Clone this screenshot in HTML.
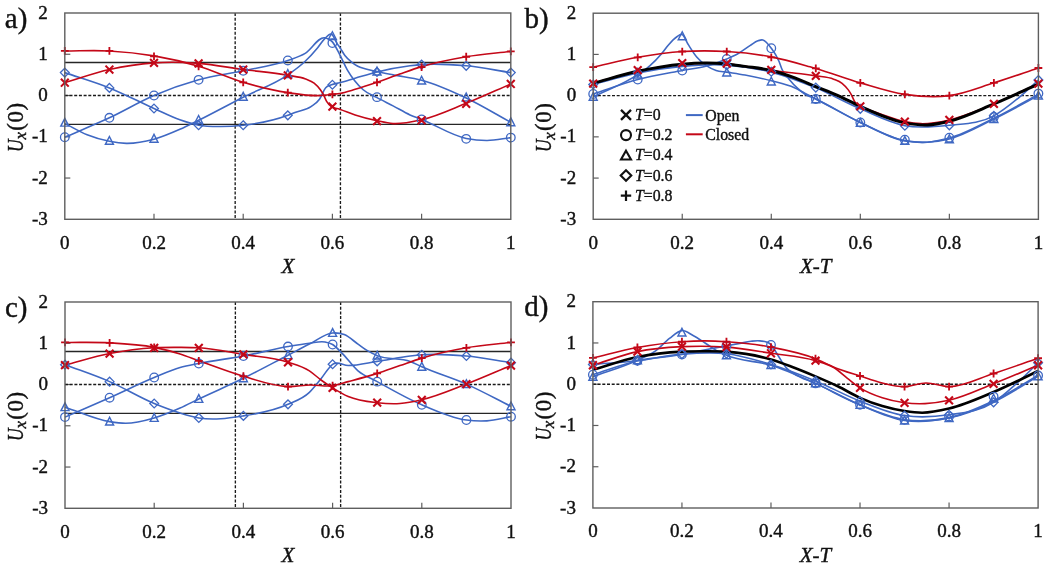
<!DOCTYPE html>
<html><head><meta charset="utf-8"><style>
html,body{margin:0;padding:0;background:#fff;width:1050px;height:568px;overflow:hidden;font-family:"Liberation Serif",serif;}
svg{display:block;will-change:transform;filter:blur(0.35px);}
</style></head><body>
<svg width="1050" height="568" viewBox="0 0 1050 568"><text x="47.80" y="18.60" text-anchor="end" font-family="Liberation Serif, serif" stroke="#111" stroke-width="0.4" font-size="19" fill="#111">2</text>
<text x="47.80" y="59.86" text-anchor="end" font-family="Liberation Serif, serif" stroke="#111" stroke-width="0.4" font-size="19" fill="#111">1</text>
<line x1="64.80" y1="54.26" x2="70.30" y2="54.26" stroke="#5e5e5e" stroke-width="1.2"/>
<text x="47.80" y="101.12" text-anchor="end" font-family="Liberation Serif, serif" stroke="#111" stroke-width="0.4" font-size="19" fill="#111">0</text>
<line x1="64.80" y1="95.52" x2="70.30" y2="95.52" stroke="#5e5e5e" stroke-width="1.2"/>
<text x="47.80" y="142.38" text-anchor="end" font-family="Liberation Serif, serif" stroke="#111" stroke-width="0.4" font-size="19" fill="#111">-1</text>
<line x1="64.80" y1="136.78" x2="70.30" y2="136.78" stroke="#5e5e5e" stroke-width="1.2"/>
<text x="47.80" y="183.64" text-anchor="end" font-family="Liberation Serif, serif" stroke="#111" stroke-width="0.4" font-size="19" fill="#111">-2</text>
<line x1="64.80" y1="178.04" x2="70.30" y2="178.04" stroke="#5e5e5e" stroke-width="1.2"/>
<text x="47.80" y="224.90" text-anchor="end" font-family="Liberation Serif, serif" stroke="#111" stroke-width="0.4" font-size="19" fill="#111">-3</text>
<text x="64.80" y="248.50" text-anchor="middle" font-family="Liberation Serif, serif" stroke="#111" stroke-width="0.4" font-size="19" fill="#111">0</text>
<text x="154.00" y="248.50" text-anchor="middle" font-family="Liberation Serif, serif" stroke="#111" stroke-width="0.4" font-size="19" fill="#111">0.2</text>
<line x1="154.00" y1="219.30" x2="154.00" y2="213.80" stroke="#5e5e5e" stroke-width="1.2"/>
<text x="243.20" y="248.50" text-anchor="middle" font-family="Liberation Serif, serif" stroke="#111" stroke-width="0.4" font-size="19" fill="#111">0.4</text>
<line x1="243.20" y1="219.30" x2="243.20" y2="213.80" stroke="#5e5e5e" stroke-width="1.2"/>
<text x="332.40" y="248.50" text-anchor="middle" font-family="Liberation Serif, serif" stroke="#111" stroke-width="0.4" font-size="19" fill="#111">0.6</text>
<line x1="332.40" y1="219.30" x2="332.40" y2="213.80" stroke="#5e5e5e" stroke-width="1.2"/>
<text x="421.60" y="248.50" text-anchor="middle" font-family="Liberation Serif, serif" stroke="#111" stroke-width="0.4" font-size="19" fill="#111">0.8</text>
<line x1="421.60" y1="219.30" x2="421.60" y2="213.80" stroke="#5e5e5e" stroke-width="1.2"/>
<text x="510.80" y="248.50" text-anchor="middle" font-family="Liberation Serif, serif" stroke="#111" stroke-width="0.4" font-size="19" fill="#111">1</text>
<text x="287.80" y="273.30" text-anchor="middle" font-family="Liberation Serif, serif" stroke="#111" stroke-width="0.4" font-size="21" font-style="italic" fill="#111">X</text>
<g transform="translate(22.50,0) rotate(-90)" font-family="Liberation Serif, serif" stroke="#111" stroke-width="0.4" fill="#111"><text x="-151.90" y="0" font-size="23" font-style="italic" textLength="12.6" lengthAdjust="spacingAndGlyphs">U</text><text x="-139.60" y="3.6" font-size="17" font-style="italic">x</text><text x="-130.80" y="0" font-size="23" textLength="28" lengthAdjust="spacing">(0)</text></g>
<text x="4.80" y="27.50" font-family="Liberation Serif, serif" stroke="#111" stroke-width="0.4" font-size="29" fill="#111">a)</text>
<line x1="64.80" y1="95.52" x2="510.80" y2="95.52" stroke="#1a1a1a" stroke-width="1.35" stroke-dasharray="3,1.7"/>
<line x1="64.80" y1="62.51" x2="510.80" y2="62.51" stroke="#262626" stroke-width="1.30"/>
<line x1="64.80" y1="124.40" x2="510.80" y2="124.40" stroke="#262626" stroke-width="1.30"/>
<line x1="235.17" y1="13.00" x2="235.17" y2="219.30" stroke="#1a1a1a" stroke-width="1.35" stroke-dasharray="3,1.7"/>
<line x1="340.43" y1="13.00" x2="340.43" y2="219.30" stroke="#1a1a1a" stroke-width="1.35" stroke-dasharray="3,1.7"/>
<path d="M64.80,137.19 C79.67,130.73 94.53,124.75 109.40,117.80 C124.27,110.85 139.13,101.85 154.00,95.52 C168.87,89.19 183.73,83.97 198.60,79.84 C213.47,75.72 228.33,74.00 243.20,70.76 C258.07,67.53 272.93,65.73 287.80,60.45 C293.60,58.39 299.40,56.85 305.19,53.43 C311.74,49.58 318.28,36.64 324.82,37.76 C327.35,38.19 329.87,38.99 332.40,41.88 C334.93,44.77 337.45,50.32 339.98,55.09 C342.36,59.57 344.74,65.35 347.12,69.53 C349.65,73.96 352.17,77.43 354.70,80.67 C357.52,84.29 360.35,87.26 363.17,89.74 C367.78,93.80 372.39,95.08 377.00,97.58 C382.35,100.49 387.70,103.03 393.06,105.84 C398.71,108.80 404.35,112.37 410.00,114.91 C413.87,116.65 417.73,117.91 421.60,119.45 C436.47,125.37 451.33,135.41 466.20,138.43 C473.19,139.85 480.17,140.53 487.16,140.49 C495.04,140.45 502.92,138.57 510.80,137.61" stroke="#3f68c3" stroke-width="1.60" fill="none" stroke-linejoin="round"/>
<path d="M64.80,123.37 C72.23,127.15 79.67,131.73 87.10,134.72 C94.53,137.71 101.97,139.85 109.40,141.32 C115.05,142.43 120.70,143.28 126.35,143.38 C135.57,143.55 144.78,141.74 154.00,139.26 C162.62,136.93 171.25,133.16 179.87,129.35 C186.11,126.59 192.36,123.36 198.60,120.28 C213.47,112.92 228.33,104.73 243.20,97.17 C258.07,89.61 272.93,85.35 287.80,74.89 C293.60,70.81 299.40,66.85 305.19,61.27 C309.36,57.27 313.52,52.68 317.68,47.66 C320.06,44.79 322.44,40.70 324.82,38.58 C327.35,36.32 329.87,32.38 332.40,34.87 C333.89,36.33 335.37,40.72 336.86,43.12 C337.90,44.80 338.94,46.09 339.98,47.66 C341.62,50.13 343.25,53.31 344.89,55.50 C347.12,58.48 349.35,60.27 351.58,62.10 C353.66,63.80 355.74,65.15 357.82,66.23 C360.20,67.45 362.58,67.97 364.96,68.70 C368.97,69.93 372.99,70.69 377.00,71.59 C382.35,72.79 387.70,73.82 393.06,74.89 C402.57,76.79 412.09,77.69 421.60,80.25 C436.47,84.27 451.33,90.98 466.20,98.00 C481.07,105.01 495.93,114.22 510.80,122.34" stroke="#3f68c3" stroke-width="1.60" fill="none" stroke-linejoin="round"/>
<path d="M64.80,72.62 C79.67,77.71 94.53,81.90 109.40,87.89 C124.27,93.87 139.13,101.87 154.00,108.52 C162.62,112.37 171.25,116.84 179.87,119.86 C186.11,122.05 192.36,124.10 198.60,125.23 C206.03,126.57 213.47,126.47 220.90,126.47 C228.33,126.47 235.77,126.05 243.20,125.23 C258.07,123.58 272.93,120.97 287.80,115.32 C290.18,114.42 292.56,113.37 294.94,112.44 C300.29,110.34 305.64,110.40 310.99,106.66 C313.82,104.69 316.64,103.29 319.47,99.23 C321.55,96.24 323.63,90.07 325.71,87.68 C327.64,85.46 329.58,85.56 331.51,84.79 C334.18,83.73 336.86,83.45 339.54,82.73 C344.74,81.33 349.94,79.69 355.15,78.19 C362.43,76.10 369.72,73.79 377.00,72.00 C388.00,69.31 399.00,67.22 410.00,65.81 C413.87,65.32 417.73,64.88 421.60,64.58 C436.47,63.40 451.33,64.47 466.20,65.81 C481.07,67.15 495.93,70.35 510.80,72.62" stroke="#3f68c3" stroke-width="1.60" fill="none" stroke-linejoin="round"/>
<path d="M64.80,82.73 C79.67,78.33 94.53,72.83 109.40,69.53 C124.27,66.23 139.13,63.96 154.00,62.92 C168.87,61.89 183.73,62.24 198.60,63.34 C213.47,64.44 228.33,67.53 243.20,69.53 C258.07,71.52 272.93,72.54 287.80,75.30 C293.75,76.41 299.69,76.65 305.64,79.02 C308.46,80.14 311.29,80.84 314.11,83.14 C316.20,84.84 318.28,86.81 320.36,89.74 C321.40,91.21 322.44,92.77 323.48,94.69 C324.52,96.62 325.56,99.51 326.60,101.30 C328.24,104.10 329.87,105.36 331.51,106.66 C334.18,108.79 336.86,108.25 339.54,109.14 C344.74,110.85 349.94,113.22 355.15,114.91 C362.43,117.29 369.72,119.12 377.00,120.69 C382.35,121.84 387.70,123.21 393.06,123.58 C402.57,124.23 412.09,121.99 421.60,119.86 C436.47,116.54 451.33,109.34 466.20,103.36 C481.07,97.38 495.93,90.43 510.80,83.97" stroke="#c40818" stroke-width="1.60" fill="none" stroke-linejoin="round"/>
<path d="M64.80,50.96 C79.67,50.96 94.53,50.13 109.40,50.96 C124.27,51.78 139.13,53.37 154.00,55.91 C168.87,58.45 183.73,61.82 198.60,66.23 C213.47,70.63 228.33,77.92 243.20,82.32 C258.07,86.72 272.93,90.42 287.80,92.63 C298.95,94.29 310.10,96.21 321.25,95.52 C324.97,95.29 328.68,94.71 332.40,94.28 C334.78,94.01 337.16,93.84 339.54,93.46 C344.74,92.61 349.94,90.83 355.15,89.33 C362.43,87.23 369.72,84.80 377.00,82.32 C384.58,79.73 392.16,76.73 399.75,74.06 C407.03,71.51 414.32,68.83 421.60,66.64 C436.47,62.16 451.33,59.28 466.20,56.74 C481.07,54.19 495.93,53.16 510.80,51.37" stroke="#c40818" stroke-width="1.60" fill="none" stroke-linejoin="round"/>
<circle cx="64.80" cy="137.19" r="4.30" stroke="#3f68c3" stroke-width="1.30" fill="none"/>
<circle cx="109.40" cy="117.80" r="4.30" stroke="#3f68c3" stroke-width="1.30" fill="none"/>
<circle cx="154.00" cy="95.52" r="4.30" stroke="#3f68c3" stroke-width="1.30" fill="none"/>
<circle cx="198.60" cy="79.84" r="4.30" stroke="#3f68c3" stroke-width="1.30" fill="none"/>
<circle cx="243.20" cy="70.76" r="4.30" stroke="#3f68c3" stroke-width="1.30" fill="none"/>
<circle cx="287.80" cy="60.45" r="4.30" stroke="#3f68c3" stroke-width="1.30" fill="none"/>
<circle cx="332.40" cy="43.12" r="4.30" stroke="#3f68c3" stroke-width="1.30" fill="none"/>
<circle cx="377.00" cy="97.17" r="4.30" stroke="#3f68c3" stroke-width="1.30" fill="none"/>
<circle cx="421.60" cy="119.45" r="4.30" stroke="#3f68c3" stroke-width="1.30" fill="none"/>
<circle cx="466.20" cy="138.84" r="4.30" stroke="#3f68c3" stroke-width="1.30" fill="none"/>
<circle cx="510.80" cy="137.61" r="4.30" stroke="#3f68c3" stroke-width="1.30" fill="none"/>
<path d="M64.80,118.35 L68.80,126.15 L60.80,126.15 Z" stroke="#3f68c3" stroke-width="1.43" fill="none"/>
<path d="M109.40,136.51 L113.40,144.31 L105.40,144.31 Z" stroke="#3f68c3" stroke-width="1.43" fill="none"/>
<path d="M154.00,134.44 L158.00,142.24 L150.00,142.24 Z" stroke="#3f68c3" stroke-width="1.43" fill="none"/>
<path d="M198.60,115.46 L202.60,123.26 L194.60,123.26 Z" stroke="#3f68c3" stroke-width="1.43" fill="none"/>
<path d="M243.20,92.36 L247.20,100.16 L239.20,100.16 Z" stroke="#3f68c3" stroke-width="1.43" fill="none"/>
<path d="M287.80,69.66 L291.80,77.46 L283.80,77.46 Z" stroke="#3f68c3" stroke-width="1.43" fill="none"/>
<path d="M332.40,31.71 L336.40,39.51 L328.40,39.51 Z" stroke="#3f68c3" stroke-width="1.43" fill="none"/>
<path d="M377.00,67.19 L381.00,74.99 L373.00,74.99 Z" stroke="#3f68c3" stroke-width="1.43" fill="none"/>
<path d="M421.60,76.27 L425.60,84.07 L417.60,84.07 Z" stroke="#3f68c3" stroke-width="1.43" fill="none"/>
<path d="M466.20,93.18 L470.20,100.98 L462.20,100.98 Z" stroke="#3f68c3" stroke-width="1.43" fill="none"/>
<path d="M510.80,117.94 L514.80,125.74 L506.80,125.74 Z" stroke="#3f68c3" stroke-width="1.43" fill="none"/>
<path d="M64.80,68.22 L69.20,72.62 L64.80,77.02 L60.40,72.62 Z" stroke="#3f68c3" stroke-width="1.30" fill="none"/>
<path d="M109.40,83.49 L113.80,87.89 L109.40,92.29 L105.00,87.89 Z" stroke="#3f68c3" stroke-width="1.30" fill="none"/>
<path d="M154.00,104.12 L158.40,108.52 L154.00,112.92 L149.60,108.52 Z" stroke="#3f68c3" stroke-width="1.30" fill="none"/>
<path d="M198.60,120.83 L203.00,125.23 L198.60,129.63 L194.20,125.23 Z" stroke="#3f68c3" stroke-width="1.30" fill="none"/>
<path d="M243.20,120.83 L247.60,125.23 L243.20,129.63 L238.80,125.23 Z" stroke="#3f68c3" stroke-width="1.30" fill="none"/>
<path d="M287.80,110.92 L292.20,115.32 L287.80,119.72 L283.40,115.32 Z" stroke="#3f68c3" stroke-width="1.30" fill="none"/>
<path d="M332.40,80.39 L336.80,84.79 L332.40,89.19 L328.00,84.79 Z" stroke="#3f68c3" stroke-width="1.30" fill="none"/>
<path d="M377.00,67.60 L381.40,72.00 L377.00,76.40 L372.60,72.00 Z" stroke="#3f68c3" stroke-width="1.30" fill="none"/>
<path d="M421.60,60.18 L426.00,64.58 L421.60,68.98 L417.20,64.58 Z" stroke="#3f68c3" stroke-width="1.30" fill="none"/>
<path d="M466.20,61.41 L470.60,65.81 L466.20,70.21 L461.80,65.81 Z" stroke="#3f68c3" stroke-width="1.30" fill="none"/>
<path d="M510.80,68.22 L515.20,72.62 L510.80,77.02 L506.40,72.62 Z" stroke="#3f68c3" stroke-width="1.30" fill="none"/>
<path d="M60.90,78.83 L68.70,86.63 M60.90,86.63 L68.70,78.83" stroke="#c40818" stroke-width="2.08" fill="none"/>
<path d="M105.50,65.63 L113.30,73.43 M105.50,73.43 L113.30,65.63" stroke="#c40818" stroke-width="2.08" fill="none"/>
<path d="M150.10,59.02 L157.90,66.82 M150.10,66.82 L157.90,59.02" stroke="#c40818" stroke-width="2.08" fill="none"/>
<path d="M194.70,59.44 L202.50,67.24 M194.70,67.24 L202.50,59.44" stroke="#c40818" stroke-width="2.08" fill="none"/>
<path d="M239.30,65.63 L247.10,73.43 M239.30,73.43 L247.10,65.63" stroke="#c40818" stroke-width="2.08" fill="none"/>
<path d="M283.90,71.40 L291.70,79.20 M283.90,79.20 L291.70,71.40" stroke="#c40818" stroke-width="2.08" fill="none"/>
<path d="M328.50,102.76 L336.30,110.56 M328.50,110.56 L336.30,102.76" stroke="#c40818" stroke-width="2.08" fill="none"/>
<path d="M373.10,117.20 L380.90,125.00 M373.10,125.00 L380.90,117.20" stroke="#c40818" stroke-width="2.08" fill="none"/>
<path d="M417.70,116.38 L425.50,124.18 M417.70,124.18 L425.50,116.38" stroke="#c40818" stroke-width="2.08" fill="none"/>
<path d="M462.30,99.87 L470.10,107.67 M462.30,107.67 L470.10,99.87" stroke="#c40818" stroke-width="2.08" fill="none"/>
<path d="M506.90,80.07 L514.70,87.87 M506.90,87.87 L514.70,80.07" stroke="#c40818" stroke-width="2.08" fill="none"/>
<path d="M60.90,50.96 L68.70,50.96 M64.80,47.06 L64.80,54.86" stroke="#c40818" stroke-width="1.82" fill="none"/>
<path d="M105.50,50.96 L113.30,50.96 M109.40,47.06 L109.40,54.86" stroke="#c40818" stroke-width="1.82" fill="none"/>
<path d="M150.10,56.32 L157.90,56.32 M154.00,52.42 L154.00,60.22" stroke="#c40818" stroke-width="1.82" fill="none"/>
<path d="M194.70,66.23 L202.50,66.23 M198.60,62.33 L198.60,70.13" stroke="#c40818" stroke-width="1.82" fill="none"/>
<path d="M239.30,82.32 L247.10,82.32 M243.20,78.42 L243.20,86.22" stroke="#c40818" stroke-width="1.82" fill="none"/>
<path d="M283.90,92.63 L291.70,92.63 M287.80,88.73 L287.80,96.53" stroke="#c40818" stroke-width="1.82" fill="none"/>
<path d="M328.50,94.28 L336.30,94.28 M332.40,90.38 L332.40,98.18" stroke="#c40818" stroke-width="1.82" fill="none"/>
<path d="M373.10,82.32 L380.90,82.32 M377.00,78.42 L377.00,86.22" stroke="#c40818" stroke-width="1.82" fill="none"/>
<path d="M417.70,67.05 L425.50,67.05 M421.60,63.15 L421.60,70.95" stroke="#c40818" stroke-width="1.82" fill="none"/>
<path d="M462.30,56.74 L470.10,56.74 M466.20,52.84 L466.20,60.64" stroke="#c40818" stroke-width="1.82" fill="none"/>
<path d="M506.90,51.37 L514.70,51.37 M510.80,47.47 L510.80,55.27" stroke="#c40818" stroke-width="1.82" fill="none"/>
<rect x="64.80" y="13.00" width="446.00" height="206.30" fill="none" stroke="#5e5e5e" stroke-width="1.4"/>
<text x="576.20" y="18.80" text-anchor="end" font-family="Liberation Serif, serif" stroke="#111" stroke-width="0.4" font-size="19" fill="#111">2</text>
<text x="576.20" y="60.02" text-anchor="end" font-family="Liberation Serif, serif" stroke="#111" stroke-width="0.4" font-size="19" fill="#111">1</text>
<line x1="593.20" y1="54.42" x2="598.70" y2="54.42" stroke="#5e5e5e" stroke-width="1.2"/>
<text x="576.20" y="101.24" text-anchor="end" font-family="Liberation Serif, serif" stroke="#111" stroke-width="0.4" font-size="19" fill="#111">0</text>
<line x1="593.20" y1="95.64" x2="598.70" y2="95.64" stroke="#5e5e5e" stroke-width="1.2"/>
<text x="576.20" y="142.46" text-anchor="end" font-family="Liberation Serif, serif" stroke="#111" stroke-width="0.4" font-size="19" fill="#111">-1</text>
<line x1="593.20" y1="136.86" x2="598.70" y2="136.86" stroke="#5e5e5e" stroke-width="1.2"/>
<text x="576.20" y="183.68" text-anchor="end" font-family="Liberation Serif, serif" stroke="#111" stroke-width="0.4" font-size="19" fill="#111">-2</text>
<line x1="593.20" y1="178.08" x2="598.70" y2="178.08" stroke="#5e5e5e" stroke-width="1.2"/>
<text x="576.20" y="224.90" text-anchor="end" font-family="Liberation Serif, serif" stroke="#111" stroke-width="0.4" font-size="19" fill="#111">-3</text>
<text x="593.20" y="248.50" text-anchor="middle" font-family="Liberation Serif, serif" stroke="#111" stroke-width="0.4" font-size="19" fill="#111">0</text>
<text x="682.24" y="248.50" text-anchor="middle" font-family="Liberation Serif, serif" stroke="#111" stroke-width="0.4" font-size="19" fill="#111">0.2</text>
<line x1="682.24" y1="219.30" x2="682.24" y2="213.80" stroke="#5e5e5e" stroke-width="1.2"/>
<text x="771.28" y="248.50" text-anchor="middle" font-family="Liberation Serif, serif" stroke="#111" stroke-width="0.4" font-size="19" fill="#111">0.4</text>
<line x1="771.28" y1="219.30" x2="771.28" y2="213.80" stroke="#5e5e5e" stroke-width="1.2"/>
<text x="860.32" y="248.50" text-anchor="middle" font-family="Liberation Serif, serif" stroke="#111" stroke-width="0.4" font-size="19" fill="#111">0.6</text>
<line x1="860.32" y1="219.30" x2="860.32" y2="213.80" stroke="#5e5e5e" stroke-width="1.2"/>
<text x="949.36" y="248.50" text-anchor="middle" font-family="Liberation Serif, serif" stroke="#111" stroke-width="0.4" font-size="19" fill="#111">0.8</text>
<line x1="949.36" y1="219.30" x2="949.36" y2="213.80" stroke="#5e5e5e" stroke-width="1.2"/>
<text x="1038.40" y="248.50" text-anchor="middle" font-family="Liberation Serif, serif" stroke="#111" stroke-width="0.4" font-size="19" fill="#111">1</text>
<text x="815.80" y="273.30" text-anchor="middle" font-family="Liberation Serif, serif" stroke="#111" stroke-width="0.4" font-size="21" font-style="italic" fill="#111">X-T</text>
<g transform="translate(550.90,0) rotate(-90)" font-family="Liberation Serif, serif" stroke="#111" stroke-width="0.4" fill="#111"><text x="-152.10" y="0" font-size="23" font-style="italic" textLength="12.6" lengthAdjust="spacingAndGlyphs">U</text><text x="-139.80" y="3.6" font-size="17" font-style="italic">x</text><text x="-131.00" y="0" font-size="23" textLength="28" lengthAdjust="spacing">(0)</text></g>
<text x="524.50" y="27.70" font-family="Liberation Serif, serif" stroke="#111" stroke-width="0.4" font-size="29" fill="#111">b)</text>
<line x1="593.20" y1="95.64" x2="1038.40" y2="95.64" stroke="#1a1a1a" stroke-width="1.35" stroke-dasharray="3,1.7"/>
<path d="M593.20,93.99 C608.04,89.18 622.88,83.48 637.72,79.56 C652.56,75.65 667.40,73.34 682.24,70.50 C690.40,68.93 698.56,68.21 706.73,65.96 C713.40,64.12 720.08,61.78 726.76,58.95 C730.32,57.45 733.88,55.99 737.44,54.01 C741.75,51.61 746.05,48.04 750.36,45.35 C752.88,43.77 755.40,41.67 757.92,40.82 C759.56,40.27 761.19,39.58 762.82,39.99 C765.64,40.70 768.46,44.43 771.28,48.24 C773.80,51.65 776.33,55.05 778.85,61.02 C779.89,63.47 780.93,66.91 781.96,69.26 C784.34,74.63 786.71,76.20 789.09,79.15 C792.06,82.85 795.02,85.92 797.99,88.63 C800.22,90.67 802.44,92.50 804.67,93.99 C808.38,96.47 812.09,97.23 815.80,98.94 C830.64,105.78 845.48,115.49 860.32,122.43 C875.16,129.37 890.00,137.82 904.84,140.57 C912.26,141.94 919.68,142.63 927.10,142.22 C934.52,141.81 941.94,140.11 949.36,138.10 C964.20,134.07 979.04,125.59 993.88,118.31 C1008.72,111.03 1023.56,102.37 1038.40,94.40" stroke="#3f68c3" stroke-width="1.60" fill="none" stroke-linejoin="round"/>
<path d="M593.20,96.88 C608.04,89.46 622.88,84.61 637.72,74.62 C641.73,71.92 645.73,69.47 649.74,65.96 C653.75,62.46 657.75,58.41 661.76,53.60 C663.99,50.92 666.21,47.51 668.44,44.94 C671.26,41.68 674.08,38.43 676.90,36.70 C678.68,35.60 680.46,33.65 682.24,34.63 C684.32,35.79 686.40,41.67 688.47,44.94 C691.29,49.37 694.11,53.94 696.93,57.31 C700.20,61.20 703.46,63.74 706.73,65.96 C709.84,68.08 712.96,69.47 716.08,70.50 C719.64,71.67 723.20,71.59 726.76,72.14 C732.84,73.09 738.93,73.91 745.01,75.03 C753.77,76.64 762.52,78.49 771.28,80.80 C779.00,82.84 786.71,84.29 794.43,87.81 C797.84,89.36 801.26,91.39 804.67,93.17 C808.38,95.10 812.09,97.01 815.80,98.94 C830.64,106.66 845.48,115.43 860.32,122.43 C875.16,129.44 890.00,138.37 904.84,140.98 C912.26,142.29 919.68,142.56 927.10,142.22 C934.52,141.88 941.94,140.75 949.36,138.92 C964.20,135.26 979.04,126.35 993.88,119.14 C1008.72,111.92 1023.56,103.47 1038.40,95.64" stroke="#3f68c3" stroke-width="1.60" fill="none" stroke-linejoin="round"/>
<path d="M593.20,84.51 C608.04,80.66 622.88,75.99 637.72,72.97 C652.56,69.95 667.40,67.68 682.24,66.37 C697.08,65.07 711.92,64.18 726.76,65.14 C741.60,66.10 756.44,68.37 771.28,72.14 C786.12,75.92 800.96,81.69 815.80,87.81 C830.64,93.92 845.48,102.51 860.32,108.83 C875.16,115.15 890.00,122.98 904.84,125.73 C919.68,128.48 934.52,126.97 949.36,125.32 C964.20,123.67 979.04,123.89 993.88,115.84 C1002.34,111.25 1010.80,104.31 1019.26,97.29 C1025.64,91.99 1032.02,85.75 1038.40,79.98" stroke="#3f68c3" stroke-width="1.60" fill="none" stroke-linejoin="round"/>
<path d="M593.20,67.20 C608.04,63.90 622.88,59.92 637.72,57.31 C652.56,54.69 667.40,52.45 682.24,51.53 C689.66,51.08 697.08,50.92 704.50,50.92 C711.92,50.92 719.34,51.10 726.76,51.53 C741.60,52.40 756.44,54.04 771.28,56.89 C784.19,59.38 797.10,63.16 810.01,66.79 C811.94,67.33 813.87,67.88 815.80,68.43 C830.64,72.73 845.48,78.53 860.32,82.86 C875.16,87.19 890.00,92.27 904.84,94.40 C919.68,96.53 934.52,97.56 949.36,95.64 C964.20,93.72 979.04,87.46 993.88,82.86 C1008.72,78.26 1023.56,72.97 1038.40,68.02" stroke="#c40818" stroke-width="1.60" fill="none" stroke-linejoin="round"/>
<path d="M593.20,83.27 C608.04,79.29 622.88,74.48 637.72,71.32 C652.56,68.16 667.40,65.64 682.24,64.31 C689.66,63.65 697.08,63.14 704.50,63.08 C711.92,63.01 719.34,63.22 726.76,63.90 C732.84,64.46 738.93,65.52 745.01,66.37 C753.77,67.61 762.52,69.10 771.28,70.29 C777.22,71.10 783.15,71.87 789.09,72.56 C794.28,73.16 799.48,73.53 804.67,74.21 C808.38,74.69 812.09,75.25 815.80,75.85 C821.74,76.82 827.67,76.84 833.61,79.15 C836.43,80.25 839.25,80.97 842.07,83.27 C844.14,84.97 846.22,86.94 848.30,89.87 C849.34,91.33 850.38,92.89 851.42,94.82 C852.45,96.74 853.49,99.66 854.53,101.41 C856.16,104.16 857.80,105.11 859.43,106.36 C862.10,108.40 864.77,108.27 867.44,109.24 C872.64,111.13 877.83,113.24 883.03,115.01 C890.30,117.50 897.57,120.14 904.84,121.61 C910.18,122.69 915.52,123.48 920.87,123.67 C930.36,124.01 939.86,122.05 949.36,119.96 C964.20,116.69 979.04,109.93 993.88,103.88 C1008.72,97.84 1023.56,90.42 1038.40,83.69" stroke="#c40818" stroke-width="1.60" fill="none" stroke-linejoin="round"/>
<path d="M593.20,83.27 C608.04,79.29 622.88,74.48 637.72,71.32 C652.56,68.16 667.40,65.64 682.24,64.31 C689.66,63.65 697.08,63.14 704.50,63.08 C711.92,63.01 719.34,63.22 726.76,63.90 C732.84,64.46 738.93,65.50 745.01,66.37 C753.77,67.64 762.52,68.40 771.28,70.50 C779.15,72.38 787.01,75.03 794.88,77.92 C801.85,80.48 808.83,83.73 815.80,86.57 C822.63,89.36 829.45,91.82 836.28,94.82 C844.29,98.33 852.31,102.82 860.32,106.36 C875.16,112.91 890.00,120.10 904.84,122.85 C912.26,124.22 919.68,125.18 927.10,124.91 C934.52,124.63 941.94,122.98 949.36,121.20 C964.20,117.62 979.04,110.07 993.88,103.88 C1008.72,97.70 1023.56,90.69 1038.40,84.10" stroke="#000000" stroke-width="3.00" fill="none" stroke-linejoin="round"/>
<circle cx="593.20" cy="93.99" r="4.30" stroke="#3f68c3" stroke-width="1.30" fill="none"/>
<circle cx="637.72" cy="79.56" r="4.30" stroke="#3f68c3" stroke-width="1.30" fill="none"/>
<circle cx="682.24" cy="70.50" r="4.30" stroke="#3f68c3" stroke-width="1.30" fill="none"/>
<circle cx="726.76" cy="58.95" r="4.30" stroke="#3f68c3" stroke-width="1.30" fill="none"/>
<circle cx="771.28" cy="48.24" r="4.30" stroke="#3f68c3" stroke-width="1.30" fill="none"/>
<circle cx="815.80" cy="98.94" r="4.30" stroke="#3f68c3" stroke-width="1.30" fill="none"/>
<circle cx="860.32" cy="122.43" r="4.30" stroke="#3f68c3" stroke-width="1.30" fill="none"/>
<circle cx="904.84" cy="139.75" r="4.30" stroke="#3f68c3" stroke-width="1.30" fill="none"/>
<circle cx="949.36" cy="137.68" r="4.30" stroke="#3f68c3" stroke-width="1.30" fill="none"/>
<circle cx="993.88" cy="117.07" r="4.30" stroke="#3f68c3" stroke-width="1.30" fill="none"/>
<circle cx="1038.40" cy="93.58" r="4.30" stroke="#3f68c3" stroke-width="1.30" fill="none"/>
<path d="M593.20,92.48 L597.20,100.28 L589.20,100.28 Z" stroke="#3f68c3" stroke-width="1.43" fill="none"/>
<path d="M637.72,70.22 L641.72,78.02 L633.72,78.02 Z" stroke="#3f68c3" stroke-width="1.43" fill="none"/>
<path d="M682.24,31.88 L686.24,39.68 L678.24,39.68 Z" stroke="#3f68c3" stroke-width="1.43" fill="none"/>
<path d="M726.76,68.16 L730.76,75.96 L722.76,75.96 Z" stroke="#3f68c3" stroke-width="1.43" fill="none"/>
<path d="M771.28,77.23 L775.28,85.03 L767.28,85.03 Z" stroke="#3f68c3" stroke-width="1.43" fill="none"/>
<path d="M815.80,94.95 L819.80,102.75 L811.80,102.75 Z" stroke="#3f68c3" stroke-width="1.43" fill="none"/>
<path d="M860.32,118.45 L864.32,126.25 L856.32,126.25 Z" stroke="#3f68c3" stroke-width="1.43" fill="none"/>
<path d="M904.84,136.58 L908.84,144.38 L900.84,144.38 Z" stroke="#3f68c3" stroke-width="1.43" fill="none"/>
<path d="M949.36,134.93 L953.36,142.73 L945.36,142.73 Z" stroke="#3f68c3" stroke-width="1.43" fill="none"/>
<path d="M993.88,114.74 L997.88,122.54 L989.88,122.54 Z" stroke="#3f68c3" stroke-width="1.43" fill="none"/>
<path d="M1038.40,91.24 L1042.40,99.04 L1034.40,99.04 Z" stroke="#3f68c3" stroke-width="1.43" fill="none"/>
<path d="M593.20,80.11 L597.60,84.51 L593.20,88.91 L588.80,84.51 Z" stroke="#3f68c3" stroke-width="1.30" fill="none"/>
<path d="M637.72,68.16 L642.12,72.56 L637.72,76.96 L633.32,72.56 Z" stroke="#3f68c3" stroke-width="1.30" fill="none"/>
<path d="M682.24,61.97 L686.64,66.37 L682.24,70.77 L677.84,66.37 Z" stroke="#3f68c3" stroke-width="1.30" fill="none"/>
<path d="M726.76,60.74 L731.16,65.14 L726.76,69.54 L722.36,65.14 Z" stroke="#3f68c3" stroke-width="1.30" fill="none"/>
<path d="M771.28,67.33 L775.68,71.73 L771.28,76.13 L766.88,71.73 Z" stroke="#3f68c3" stroke-width="1.30" fill="none"/>
<path d="M815.80,83.20 L820.20,87.60 L815.80,92.00 L811.40,87.60 Z" stroke="#3f68c3" stroke-width="1.30" fill="none"/>
<path d="M860.32,104.43 L864.72,108.83 L860.32,113.23 L855.92,108.83 Z" stroke="#3f68c3" stroke-width="1.30" fill="none"/>
<path d="M904.84,121.33 L909.24,125.73 L904.84,130.13 L900.44,125.73 Z" stroke="#3f68c3" stroke-width="1.30" fill="none"/>
<path d="M949.36,120.92 L953.76,125.32 L949.36,129.72 L944.96,125.32 Z" stroke="#3f68c3" stroke-width="1.30" fill="none"/>
<path d="M993.88,111.44 L998.28,115.84 L993.88,120.24 L989.48,115.84 Z" stroke="#3f68c3" stroke-width="1.30" fill="none"/>
<path d="M1038.40,75.58 L1042.80,79.98 L1038.40,84.38 L1034.00,79.98 Z" stroke="#3f68c3" stroke-width="1.30" fill="none"/>
<path d="M589.30,67.20 L597.10,67.20 M593.20,63.30 L593.20,71.10" stroke="#c40818" stroke-width="1.82" fill="none"/>
<path d="M633.82,57.31 L641.62,57.31 M637.72,53.41 L637.72,61.21" stroke="#c40818" stroke-width="1.82" fill="none"/>
<path d="M678.34,51.53 L686.14,51.53 M682.24,47.63 L682.24,55.43" stroke="#c40818" stroke-width="1.82" fill="none"/>
<path d="M722.86,51.53 L730.66,51.53 M726.76,47.63 L726.76,55.43" stroke="#c40818" stroke-width="1.82" fill="none"/>
<path d="M767.38,57.31 L775.18,57.31 M771.28,53.41 L771.28,61.21" stroke="#c40818" stroke-width="1.82" fill="none"/>
<path d="M811.90,68.43 L819.70,68.43 M815.80,64.53 L815.80,72.33" stroke="#c40818" stroke-width="1.82" fill="none"/>
<path d="M856.42,82.86 L864.22,82.86 M860.32,78.96 L860.32,86.76" stroke="#c40818" stroke-width="1.82" fill="none"/>
<path d="M900.94,94.40 L908.74,94.40 M904.84,90.50 L904.84,98.30" stroke="#c40818" stroke-width="1.82" fill="none"/>
<path d="M945.46,95.64 L953.26,95.64 M949.36,91.74 L949.36,99.54" stroke="#c40818" stroke-width="1.82" fill="none"/>
<path d="M989.98,82.86 L997.78,82.86 M993.88,78.96 L993.88,86.76" stroke="#c40818" stroke-width="1.82" fill="none"/>
<path d="M1034.50,68.02 L1042.30,68.02 M1038.40,64.12 L1038.40,71.92" stroke="#c40818" stroke-width="1.82" fill="none"/>
<path d="M589.30,79.79 L597.10,87.59 M589.30,87.59 L597.10,79.79" stroke="#c40818" stroke-width="2.08" fill="none"/>
<path d="M633.82,66.18 L641.62,73.98 M633.82,73.98 L641.62,66.18" stroke="#c40818" stroke-width="2.08" fill="none"/>
<path d="M678.34,59.18 L686.14,66.98 M678.34,66.98 L686.14,59.18" stroke="#c40818" stroke-width="2.08" fill="none"/>
<path d="M722.86,59.59 L730.66,67.39 M722.86,67.39 L730.66,59.59" stroke="#c40818" stroke-width="2.08" fill="none"/>
<path d="M767.38,65.98 L775.18,73.78 M767.38,73.78 L775.18,65.98" stroke="#c40818" stroke-width="2.08" fill="none"/>
<path d="M811.90,71.95 L819.70,79.75 M811.90,79.75 L819.70,71.95" stroke="#c40818" stroke-width="2.08" fill="none"/>
<path d="M856.42,102.46 L864.22,110.26 M856.42,110.26 L864.22,102.46" stroke="#c40818" stroke-width="2.08" fill="none"/>
<path d="M900.94,117.71 L908.74,125.51 M900.94,125.51 L908.74,117.71" stroke="#c40818" stroke-width="2.08" fill="none"/>
<path d="M945.46,116.06 L953.26,123.86 M945.46,123.86 L953.26,116.06" stroke="#c40818" stroke-width="2.08" fill="none"/>
<path d="M989.98,99.98 L997.78,107.78 M989.98,107.78 L997.78,99.98" stroke="#c40818" stroke-width="2.08" fill="none"/>
<path d="M1034.50,79.79 L1042.30,87.59 M1034.50,87.59 L1042.30,79.79" stroke="#c40818" stroke-width="2.08" fill="none"/>
<rect x="593.20" y="13.20" width="445.20" height="206.10" fill="none" stroke="#5e5e5e" stroke-width="1.4"/>
<text x="48.00" y="307.60" text-anchor="end" font-family="Liberation Serif, serif" stroke="#111" stroke-width="0.4" font-size="19" fill="#111">2</text>
<text x="48.00" y="348.86" text-anchor="end" font-family="Liberation Serif, serif" stroke="#111" stroke-width="0.4" font-size="19" fill="#111">1</text>
<line x1="65.00" y1="343.26" x2="70.50" y2="343.26" stroke="#5e5e5e" stroke-width="1.2"/>
<text x="48.00" y="390.12" text-anchor="end" font-family="Liberation Serif, serif" stroke="#111" stroke-width="0.4" font-size="19" fill="#111">0</text>
<line x1="65.00" y1="384.52" x2="70.50" y2="384.52" stroke="#5e5e5e" stroke-width="1.2"/>
<text x="48.00" y="431.38" text-anchor="end" font-family="Liberation Serif, serif" stroke="#111" stroke-width="0.4" font-size="19" fill="#111">-1</text>
<line x1="65.00" y1="425.78" x2="70.50" y2="425.78" stroke="#5e5e5e" stroke-width="1.2"/>
<text x="48.00" y="472.64" text-anchor="end" font-family="Liberation Serif, serif" stroke="#111" stroke-width="0.4" font-size="19" fill="#111">-2</text>
<line x1="65.00" y1="467.04" x2="70.50" y2="467.04" stroke="#5e5e5e" stroke-width="1.2"/>
<text x="48.00" y="513.90" text-anchor="end" font-family="Liberation Serif, serif" stroke="#111" stroke-width="0.4" font-size="19" fill="#111">-3</text>
<text x="65.00" y="537.50" text-anchor="middle" font-family="Liberation Serif, serif" stroke="#111" stroke-width="0.4" font-size="19" fill="#111">0</text>
<text x="154.20" y="537.50" text-anchor="middle" font-family="Liberation Serif, serif" stroke="#111" stroke-width="0.4" font-size="19" fill="#111">0.2</text>
<line x1="154.20" y1="508.30" x2="154.20" y2="502.80" stroke="#5e5e5e" stroke-width="1.2"/>
<text x="243.40" y="537.50" text-anchor="middle" font-family="Liberation Serif, serif" stroke="#111" stroke-width="0.4" font-size="19" fill="#111">0.4</text>
<line x1="243.40" y1="508.30" x2="243.40" y2="502.80" stroke="#5e5e5e" stroke-width="1.2"/>
<text x="332.60" y="537.50" text-anchor="middle" font-family="Liberation Serif, serif" stroke="#111" stroke-width="0.4" font-size="19" fill="#111">0.6</text>
<line x1="332.60" y1="508.30" x2="332.60" y2="502.80" stroke="#5e5e5e" stroke-width="1.2"/>
<text x="421.80" y="537.50" text-anchor="middle" font-family="Liberation Serif, serif" stroke="#111" stroke-width="0.4" font-size="19" fill="#111">0.8</text>
<line x1="421.80" y1="508.30" x2="421.80" y2="502.80" stroke="#5e5e5e" stroke-width="1.2"/>
<text x="511.00" y="537.50" text-anchor="middle" font-family="Liberation Serif, serif" stroke="#111" stroke-width="0.4" font-size="19" fill="#111">1</text>
<text x="288.00" y="562.30" text-anchor="middle" font-family="Liberation Serif, serif" stroke="#111" stroke-width="0.4" font-size="21" font-style="italic" fill="#111">X</text>
<g transform="translate(22.70,0) rotate(-90)" font-family="Liberation Serif, serif" stroke="#111" stroke-width="0.4" fill="#111"><text x="-440.90" y="0" font-size="23" font-style="italic" textLength="12.6" lengthAdjust="spacingAndGlyphs">U</text><text x="-428.60" y="3.6" font-size="17" font-style="italic">x</text><text x="-419.80" y="0" font-size="23" textLength="28" lengthAdjust="spacing">(0)</text></g>
<text x="5.00" y="316.50" font-family="Liberation Serif, serif" stroke="#111" stroke-width="0.4" font-size="29" fill="#111">c)</text>
<line x1="65.00" y1="384.52" x2="511.00" y2="384.52" stroke="#1a1a1a" stroke-width="1.35" stroke-dasharray="3,1.7"/>
<line x1="65.00" y1="351.51" x2="511.00" y2="351.51" stroke="#262626" stroke-width="1.30"/>
<line x1="65.00" y1="413.40" x2="511.00" y2="413.40" stroke="#262626" stroke-width="1.30"/>
<line x1="235.37" y1="302.00" x2="235.37" y2="508.30" stroke="#1a1a1a" stroke-width="1.35" stroke-dasharray="3,1.7"/>
<line x1="340.63" y1="302.00" x2="340.63" y2="508.30" stroke="#1a1a1a" stroke-width="1.35" stroke-dasharray="3,1.7"/>
<path d="M65.00,417.12 C79.87,410.65 94.73,404.32 109.60,397.72 C124.47,391.12 139.33,383.58 154.20,377.51 C162.82,373.98 171.45,370.09 180.07,367.60 C186.31,365.80 192.56,364.75 198.80,363.48 C213.67,360.44 228.53,358.87 243.40,356.05 C258.27,353.23 273.13,349.14 288.00,346.56 C295.14,345.32 302.27,344.05 309.41,343.26 C314.61,342.68 319.81,341.01 325.02,342.02 C327.55,342.51 330.07,343.01 332.60,344.50 C335.87,346.42 339.14,350.32 342.41,353.57 C347.62,358.76 352.82,366.41 358.02,370.90 C364.41,376.42 370.81,378.11 377.20,381.63 C388.20,387.70 399.20,394.07 410.20,399.37 C414.07,401.24 417.93,403.05 421.80,404.74 C436.67,411.25 451.53,417.99 466.40,420.00 C473.24,420.93 480.08,421.22 486.92,420.83 C494.94,420.37 502.97,418.08 511.00,416.70" stroke="#3f68c3" stroke-width="1.60" fill="none" stroke-linejoin="round"/>
<path d="M65.00,407.21 C79.87,412.03 94.73,419.26 109.60,421.65 C114.95,422.52 120.30,423.31 125.66,423.30 C135.17,423.29 144.69,420.70 154.20,417.94 C162.82,415.44 171.45,411.85 180.07,408.04 C186.31,405.28 192.56,401.95 198.80,398.96 C213.67,391.85 228.53,385.62 243.40,378.33 C258.27,371.04 273.13,362.95 288.00,355.23 C295.14,351.52 302.27,347.66 309.41,344.09 C317.14,340.21 324.87,333.45 332.60,332.94 C336.47,332.69 340.33,333.09 344.20,334.60 C348.80,336.40 353.41,340.87 358.02,344.09 C361.14,346.26 364.27,348.79 367.39,350.69 C370.66,352.67 373.93,354.23 377.20,355.64 C388.20,360.36 399.20,357.15 410.20,361.41 C414.07,362.91 417.93,365.05 421.80,366.78 C436.67,373.43 451.53,377.51 466.40,384.11 C481.27,390.71 496.13,398.96 511.00,406.39" stroke="#3f68c3" stroke-width="1.60" fill="none" stroke-linejoin="round"/>
<path d="M65.00,364.72 C79.87,370.35 94.73,375.17 109.60,381.63 C124.47,388.10 139.33,397.37 154.20,403.50 C162.82,407.05 171.45,410.34 180.07,412.99 C186.31,414.91 192.56,416.86 198.80,417.94 C213.67,420.50 228.53,418.15 243.40,415.88 C258.27,413.61 273.13,411.19 288.00,404.32 C295.14,401.03 302.27,399.20 309.41,392.36 C313.27,388.66 317.14,383.42 321.00,378.74 C324.87,374.07 328.73,366.93 332.60,364.30 C337.80,360.76 343.01,365.53 348.21,365.54 C357.87,365.56 367.54,362.88 377.20,361.41 C388.20,359.74 399.20,357.38 410.20,356.05 C414.07,355.58 417.93,355.12 421.80,354.81 C436.67,353.64 451.53,354.74 466.40,356.05 C481.27,357.36 496.13,360.45 511.00,362.65" stroke="#3f68c3" stroke-width="1.60" fill="none" stroke-linejoin="round"/>
<path d="M65.00,365.13 C79.87,361.28 94.73,356.46 109.60,353.57 C124.47,350.69 139.33,348.66 154.20,347.80 C162.82,347.30 171.45,347.33 180.07,347.39 C186.31,347.42 192.56,347.43 198.80,347.80 C213.67,348.68 228.53,351.99 243.40,354.40 C258.27,356.81 273.13,357.33 288.00,362.24 C295.14,364.60 302.27,366.27 309.41,370.90 C313.27,373.42 317.14,377.16 321.00,379.98 C324.87,382.80 328.73,385.41 332.60,387.82 C337.80,391.07 343.01,394.22 348.21,396.49 C357.87,400.69 367.54,401.57 377.20,402.67 C384.78,403.54 392.36,404.02 399.95,403.50 C407.23,403.00 414.52,401.46 421.80,399.79 C436.67,396.37 451.53,389.82 466.40,384.11 C481.27,378.40 496.13,371.73 511.00,365.54" stroke="#c40818" stroke-width="1.60" fill="none" stroke-linejoin="round"/>
<path d="M65.00,342.43 C79.87,342.57 94.73,342.02 109.60,342.85 C124.47,343.67 139.33,344.43 154.20,347.39 C162.82,349.10 171.45,351.25 180.07,353.99 C186.31,355.97 192.56,358.56 198.80,360.80 C213.67,366.13 228.53,371.97 243.40,376.27 C258.27,380.57 273.13,386.17 288.00,386.58 C295.43,386.79 302.87,385.07 310.30,384.93 C317.73,384.80 325.17,386.80 332.60,385.76 C337.80,385.03 343.01,383.04 348.21,381.63 C357.87,379.01 367.54,376.46 377.20,373.38 C384.78,370.97 392.36,368.13 399.95,365.54 C407.23,363.05 414.52,360.33 421.80,358.11 C436.67,353.59 451.53,350.41 466.40,347.80 C481.27,345.19 496.13,344.22 511.00,342.43" stroke="#c40818" stroke-width="1.60" fill="none" stroke-linejoin="round"/>
<circle cx="65.00" cy="417.12" r="4.30" stroke="#3f68c3" stroke-width="1.30" fill="none"/>
<circle cx="109.60" cy="397.72" r="4.30" stroke="#3f68c3" stroke-width="1.30" fill="none"/>
<circle cx="154.20" cy="377.51" r="4.30" stroke="#3f68c3" stroke-width="1.30" fill="none"/>
<circle cx="198.80" cy="363.48" r="4.30" stroke="#3f68c3" stroke-width="1.30" fill="none"/>
<circle cx="243.40" cy="356.05" r="4.30" stroke="#3f68c3" stroke-width="1.30" fill="none"/>
<circle cx="288.00" cy="346.56" r="4.30" stroke="#3f68c3" stroke-width="1.30" fill="none"/>
<circle cx="332.60" cy="344.50" r="4.30" stroke="#3f68c3" stroke-width="1.30" fill="none"/>
<circle cx="377.20" cy="381.63" r="4.30" stroke="#3f68c3" stroke-width="1.30" fill="none"/>
<circle cx="421.80" cy="404.74" r="4.30" stroke="#3f68c3" stroke-width="1.30" fill="none"/>
<circle cx="466.40" cy="420.00" r="4.30" stroke="#3f68c3" stroke-width="1.30" fill="none"/>
<circle cx="511.00" cy="416.70" r="4.30" stroke="#3f68c3" stroke-width="1.30" fill="none"/>
<path d="M65.00,402.81 L69.00,410.61 L61.00,410.61 Z" stroke="#3f68c3" stroke-width="1.43" fill="none"/>
<path d="M109.60,417.25 L113.60,425.05 L105.60,425.05 Z" stroke="#3f68c3" stroke-width="1.43" fill="none"/>
<path d="M154.20,413.54 L158.20,421.34 L150.20,421.34 Z" stroke="#3f68c3" stroke-width="1.43" fill="none"/>
<path d="M198.80,394.56 L202.80,402.36 L194.80,402.36 Z" stroke="#3f68c3" stroke-width="1.43" fill="none"/>
<path d="M243.40,373.93 L247.40,381.73 L239.40,381.73 Z" stroke="#3f68c3" stroke-width="1.43" fill="none"/>
<path d="M288.00,350.83 L292.00,358.63 L284.00,358.63 Z" stroke="#3f68c3" stroke-width="1.43" fill="none"/>
<path d="M332.60,328.55 L336.60,336.34 L328.60,336.34 Z" stroke="#3f68c3" stroke-width="1.43" fill="none"/>
<path d="M377.20,351.24 L381.20,359.04 L373.20,359.04 Z" stroke="#3f68c3" stroke-width="1.43" fill="none"/>
<path d="M421.80,362.38 L425.80,370.18 L417.80,370.18 Z" stroke="#3f68c3" stroke-width="1.43" fill="none"/>
<path d="M466.40,379.71 L470.40,387.51 L462.40,387.51 Z" stroke="#3f68c3" stroke-width="1.43" fill="none"/>
<path d="M511.00,401.99 L515.00,409.79 L507.00,409.79 Z" stroke="#3f68c3" stroke-width="1.43" fill="none"/>
<path d="M65.00,360.32 L69.40,364.72 L65.00,369.12 L60.60,364.72 Z" stroke="#3f68c3" stroke-width="1.30" fill="none"/>
<path d="M109.60,377.23 L114.00,381.63 L109.60,386.03 L105.20,381.63 Z" stroke="#3f68c3" stroke-width="1.30" fill="none"/>
<path d="M154.20,399.10 L158.60,403.50 L154.20,407.90 L149.80,403.50 Z" stroke="#3f68c3" stroke-width="1.30" fill="none"/>
<path d="M198.80,413.54 L203.20,417.94 L198.80,422.34 L194.40,417.94 Z" stroke="#3f68c3" stroke-width="1.30" fill="none"/>
<path d="M243.40,411.48 L247.80,415.88 L243.40,420.28 L239.00,415.88 Z" stroke="#3f68c3" stroke-width="1.30" fill="none"/>
<path d="M288.00,399.92 L292.40,404.32 L288.00,408.72 L283.60,404.32 Z" stroke="#3f68c3" stroke-width="1.30" fill="none"/>
<path d="M332.60,359.90 L337.00,364.30 L332.60,368.70 L328.20,364.30 Z" stroke="#3f68c3" stroke-width="1.30" fill="none"/>
<path d="M377.20,357.01 L381.60,361.41 L377.20,365.81 L372.80,361.41 Z" stroke="#3f68c3" stroke-width="1.30" fill="none"/>
<path d="M421.80,350.41 L426.20,354.81 L421.80,359.21 L417.40,354.81 Z" stroke="#3f68c3" stroke-width="1.30" fill="none"/>
<path d="M466.40,351.65 L470.80,356.05 L466.40,360.45 L462.00,356.05 Z" stroke="#3f68c3" stroke-width="1.30" fill="none"/>
<path d="M511.00,358.25 L515.40,362.65 L511.00,367.05 L506.60,362.65 Z" stroke="#3f68c3" stroke-width="1.30" fill="none"/>
<path d="M61.10,361.23 L68.90,369.03 M61.10,369.03 L68.90,361.23" stroke="#c40818" stroke-width="2.08" fill="none"/>
<path d="M105.70,349.68 L113.50,357.47 M105.70,357.47 L113.50,349.68" stroke="#c40818" stroke-width="2.08" fill="none"/>
<path d="M150.30,343.90 L158.10,351.70 M150.30,351.70 L158.10,343.90" stroke="#c40818" stroke-width="2.08" fill="none"/>
<path d="M194.90,343.90 L202.70,351.70 M194.90,351.70 L202.70,343.90" stroke="#c40818" stroke-width="2.08" fill="none"/>
<path d="M239.50,350.50 L247.30,358.30 M239.50,358.30 L247.30,350.50" stroke="#c40818" stroke-width="2.08" fill="none"/>
<path d="M284.10,358.34 L291.90,366.14 M284.10,366.14 L291.90,358.34" stroke="#c40818" stroke-width="2.08" fill="none"/>
<path d="M328.70,383.92 L336.50,391.72 M328.70,391.72 L336.50,383.92" stroke="#c40818" stroke-width="2.08" fill="none"/>
<path d="M373.30,398.77 L381.10,406.57 M373.30,406.57 L381.10,398.77" stroke="#c40818" stroke-width="2.08" fill="none"/>
<path d="M417.90,395.89 L425.70,403.69 M417.90,403.69 L425.70,395.89" stroke="#c40818" stroke-width="2.08" fill="none"/>
<path d="M462.50,380.21 L470.30,388.01 M462.50,388.01 L470.30,380.21" stroke="#c40818" stroke-width="2.08" fill="none"/>
<path d="M507.10,361.64 L514.90,369.44 M507.10,369.44 L514.90,361.64" stroke="#c40818" stroke-width="2.08" fill="none"/>
<path d="M61.10,342.43 L68.90,342.43 M65.00,338.53 L65.00,346.33" stroke="#c40818" stroke-width="1.82" fill="none"/>
<path d="M105.70,342.85 L113.50,342.85 M109.60,338.95 L109.60,346.75" stroke="#c40818" stroke-width="1.82" fill="none"/>
<path d="M150.30,347.39 L158.10,347.39 M154.20,343.49 L154.20,351.29" stroke="#c40818" stroke-width="1.82" fill="none"/>
<path d="M194.90,360.80 L202.70,360.80 M198.80,356.90 L198.80,364.70" stroke="#c40818" stroke-width="1.82" fill="none"/>
<path d="M239.50,376.27 L247.30,376.27 M243.40,372.37 L243.40,380.17" stroke="#c40818" stroke-width="1.82" fill="none"/>
<path d="M284.10,386.58 L291.90,386.58 M288.00,382.68 L288.00,390.48" stroke="#c40818" stroke-width="1.82" fill="none"/>
<path d="M328.70,385.76 L336.50,385.76 M332.60,381.86 L332.60,389.66" stroke="#c40818" stroke-width="1.82" fill="none"/>
<path d="M373.30,373.38 L381.10,373.38 M377.20,369.48 L377.20,377.28" stroke="#c40818" stroke-width="1.82" fill="none"/>
<path d="M417.90,358.11 L425.70,358.11 M421.80,354.21 L421.80,362.01" stroke="#c40818" stroke-width="1.82" fill="none"/>
<path d="M462.50,347.80 L470.30,347.80 M466.40,343.90 L466.40,351.70" stroke="#c40818" stroke-width="1.82" fill="none"/>
<path d="M507.10,342.43 L514.90,342.43 M511.00,338.53 L511.00,346.33" stroke="#c40818" stroke-width="1.82" fill="none"/>
<rect x="65.00" y="302.00" width="446.00" height="206.30" fill="none" stroke="#5e5e5e" stroke-width="1.4"/>
<text x="575.90" y="307.30" text-anchor="end" font-family="Liberation Serif, serif" stroke="#111" stroke-width="0.4" font-size="19" fill="#111">2</text>
<text x="575.90" y="348.56" text-anchor="end" font-family="Liberation Serif, serif" stroke="#111" stroke-width="0.4" font-size="19" fill="#111">1</text>
<line x1="592.90" y1="342.96" x2="598.40" y2="342.96" stroke="#5e5e5e" stroke-width="1.2"/>
<text x="575.90" y="389.82" text-anchor="end" font-family="Liberation Serif, serif" stroke="#111" stroke-width="0.4" font-size="19" fill="#111">0</text>
<line x1="592.90" y1="384.22" x2="598.40" y2="384.22" stroke="#5e5e5e" stroke-width="1.2"/>
<text x="575.90" y="431.08" text-anchor="end" font-family="Liberation Serif, serif" stroke="#111" stroke-width="0.4" font-size="19" fill="#111">-1</text>
<line x1="592.90" y1="425.48" x2="598.40" y2="425.48" stroke="#5e5e5e" stroke-width="1.2"/>
<text x="575.90" y="472.34" text-anchor="end" font-family="Liberation Serif, serif" stroke="#111" stroke-width="0.4" font-size="19" fill="#111">-2</text>
<line x1="592.90" y1="466.74" x2="598.40" y2="466.74" stroke="#5e5e5e" stroke-width="1.2"/>
<text x="575.90" y="513.60" text-anchor="end" font-family="Liberation Serif, serif" stroke="#111" stroke-width="0.4" font-size="19" fill="#111">-3</text>
<text x="592.90" y="537.20" text-anchor="middle" font-family="Liberation Serif, serif" stroke="#111" stroke-width="0.4" font-size="19" fill="#111">0</text>
<text x="681.94" y="537.20" text-anchor="middle" font-family="Liberation Serif, serif" stroke="#111" stroke-width="0.4" font-size="19" fill="#111">0.2</text>
<line x1="681.94" y1="508.00" x2="681.94" y2="502.50" stroke="#5e5e5e" stroke-width="1.2"/>
<text x="770.98" y="537.20" text-anchor="middle" font-family="Liberation Serif, serif" stroke="#111" stroke-width="0.4" font-size="19" fill="#111">0.4</text>
<line x1="770.98" y1="508.00" x2="770.98" y2="502.50" stroke="#5e5e5e" stroke-width="1.2"/>
<text x="860.02" y="537.20" text-anchor="middle" font-family="Liberation Serif, serif" stroke="#111" stroke-width="0.4" font-size="19" fill="#111">0.6</text>
<line x1="860.02" y1="508.00" x2="860.02" y2="502.50" stroke="#5e5e5e" stroke-width="1.2"/>
<text x="949.06" y="537.20" text-anchor="middle" font-family="Liberation Serif, serif" stroke="#111" stroke-width="0.4" font-size="19" fill="#111">0.8</text>
<line x1="949.06" y1="508.00" x2="949.06" y2="502.50" stroke="#5e5e5e" stroke-width="1.2"/>
<text x="1038.10" y="537.20" text-anchor="middle" font-family="Liberation Serif, serif" stroke="#111" stroke-width="0.4" font-size="19" fill="#111">1</text>
<text x="815.50" y="562.00" text-anchor="middle" font-family="Liberation Serif, serif" stroke="#111" stroke-width="0.4" font-size="21" font-style="italic" fill="#111">X-T</text>
<g transform="translate(550.60,0) rotate(-90)" font-family="Liberation Serif, serif" stroke="#111" stroke-width="0.4" fill="#111"><text x="-440.60" y="0" font-size="23" font-style="italic" textLength="12.6" lengthAdjust="spacingAndGlyphs">U</text><text x="-428.30" y="3.6" font-size="17" font-style="italic">x</text><text x="-419.50" y="0" font-size="23" textLength="28" lengthAdjust="spacing">(0)</text></g>
<text x="524.20" y="316.20" font-family="Liberation Serif, serif" stroke="#111" stroke-width="0.4" font-size="29" fill="#111">d)</text>
<line x1="592.90" y1="384.22" x2="1038.10" y2="384.22" stroke="#1a1a1a" stroke-width="1.35" stroke-dasharray="3,1.7"/>
<path d="M592.90,374.73 C607.74,370.05 622.58,364.07 637.42,360.70 C652.26,357.33 667.10,357.22 681.94,354.51 C689.36,353.16 696.78,351.42 704.20,349.97 C711.62,348.53 719.04,347.22 726.46,345.85 C730.91,345.02 735.36,344.20 739.82,343.37 C743.53,342.68 747.24,341.71 750.95,341.31 C753.91,340.99 756.88,340.53 759.85,340.90 C763.56,341.35 767.27,340.79 770.98,344.61 C773.80,347.52 776.62,353.59 779.44,357.81 C781.81,361.37 784.19,365.52 786.56,368.13 C788.94,370.74 791.31,371.88 793.69,373.49 C800.96,378.43 808.23,380.03 815.50,383.39 C830.34,390.27 845.18,398.80 860.02,404.85 C874.86,410.90 889.70,417.57 904.54,419.70 C919.38,421.84 934.22,420.80 949.06,417.64 C963.90,414.48 978.74,407.74 993.58,400.72 C1008.42,393.71 1023.26,383.94 1038.10,375.56" stroke="#3f68c3" stroke-width="1.60" fill="none" stroke-linejoin="round"/>
<path d="M592.90,376.79 C607.74,371.29 622.58,367.26 637.42,360.29 C643.36,357.50 649.29,355.52 655.23,351.21 C659.98,347.77 664.73,342.00 669.47,338.42 C673.63,335.29 677.78,330.84 681.94,330.58 C685.65,330.35 689.36,333.57 693.07,335.53 C697.08,337.65 701.08,340.38 705.09,342.96 C708.80,345.35 712.51,348.27 716.22,350.39 C719.63,352.34 723.05,353.85 726.46,355.34 C741.30,361.79 756.14,360.56 770.98,365.24 C785.82,369.92 800.66,376.79 815.50,383.39 C830.34,390.00 845.18,398.66 860.02,404.85 C874.86,411.04 889.70,418.33 904.54,420.53 C919.38,422.73 934.22,421.15 949.06,418.05 C963.90,414.96 978.74,408.91 993.58,401.96 C1008.42,395.02 1023.26,384.91 1038.10,376.38" stroke="#3f68c3" stroke-width="1.60" fill="none" stroke-linejoin="round"/>
<path d="M592.90,364.42 C607.74,363.18 622.58,362.42 637.42,360.70 C652.26,358.98 667.10,355.27 681.94,354.10 C696.78,352.93 711.62,351.97 726.46,353.69 C741.30,355.41 756.14,359.88 770.98,364.42 C785.82,368.95 800.66,374.80 815.50,380.92 C830.34,387.04 845.18,395.36 860.02,401.14 C874.86,406.91 889.70,413.31 904.54,415.58 C919.38,417.85 934.22,416.95 949.06,414.75 C963.90,412.55 978.74,411.82 993.58,402.37 C1001.00,397.65 1008.42,390.82 1015.84,384.22 C1023.26,377.62 1030.68,369.92 1038.10,362.76" stroke="#3f68c3" stroke-width="1.60" fill="none" stroke-linejoin="round"/>
<path d="M592.90,357.81 C607.74,354.38 622.58,350.18 637.42,347.50 C652.26,344.82 667.10,342.73 681.94,341.72 C689.66,341.20 697.37,340.87 705.09,340.90 C712.21,340.92 719.34,341.26 726.46,341.72 C741.30,342.69 756.14,344.27 770.98,347.09 C785.82,349.91 800.66,352.63 815.50,358.64 C821.44,361.04 827.37,364.43 833.31,366.89 C842.21,370.58 851.12,373.06 860.02,375.97 C867.44,378.39 874.86,381.19 882.28,382.98 C889.70,384.77 897.12,386.75 904.54,386.70 C911.66,386.65 918.79,383.08 925.91,382.98 C933.63,382.88 941.34,386.66 949.06,386.70 C963.90,386.76 978.74,378.24 993.58,373.49 C1008.42,368.75 1023.26,363.31 1038.10,358.23" stroke="#c40818" stroke-width="1.60" fill="none" stroke-linejoin="round"/>
<path d="M592.90,365.24 C607.74,360.70 622.58,354.72 637.42,351.62 C652.26,348.53 667.10,347.43 681.94,346.67 C696.78,345.92 711.62,345.99 726.46,347.09 C741.30,348.19 756.14,351.01 770.98,353.27 C785.82,355.54 800.66,356.06 815.50,360.70 C821.44,362.56 827.37,363.74 833.31,367.30 C837.91,370.06 842.51,374.48 847.11,378.03 C851.41,381.35 855.72,385.14 860.02,387.93 C867.44,392.75 874.86,395.36 882.28,397.84 C889.70,400.31 897.12,401.84 904.54,402.79 C911.37,403.66 918.19,403.89 925.02,403.61 C933.03,403.28 941.05,402.07 949.06,400.31 C963.90,397.06 978.74,389.65 993.58,383.81 C1008.42,377.96 1023.26,371.43 1038.10,365.24" stroke="#c40818" stroke-width="1.60" fill="none" stroke-linejoin="round"/>
<path d="M592.90,369.78 C607.74,365.52 622.58,360.01 637.42,356.99 C652.26,353.96 667.10,352.40 681.94,351.62 C689.36,351.23 696.78,351.21 704.20,351.21 C711.62,351.21 719.04,351.10 726.46,351.62 C741.30,352.68 756.14,355.07 770.98,359.46 C777.66,361.44 784.34,363.98 791.01,366.48 C799.18,369.54 807.34,372.91 815.50,376.38 C822.92,379.54 830.34,382.71 837.76,386.28 C845.18,389.86 852.60,394.53 860.02,397.84 C867.44,401.14 874.86,403.89 882.28,406.09 C889.70,408.29 897.12,409.92 904.54,411.04 C910.48,411.93 916.41,412.73 922.35,412.69 C931.25,412.63 940.16,410.66 949.06,408.56 C963.90,405.07 978.74,398.32 993.58,392.06 C1008.42,385.80 1023.26,378.03 1038.10,371.02" stroke="#000000" stroke-width="2.60" fill="none" stroke-linejoin="round"/>
<circle cx="592.90" cy="374.73" r="4.30" stroke="#3f68c3" stroke-width="1.30" fill="none"/>
<circle cx="637.42" cy="360.70" r="4.30" stroke="#3f68c3" stroke-width="1.30" fill="none"/>
<circle cx="681.94" cy="354.51" r="4.30" stroke="#3f68c3" stroke-width="1.30" fill="none"/>
<circle cx="726.46" cy="345.85" r="4.30" stroke="#3f68c3" stroke-width="1.30" fill="none"/>
<circle cx="770.98" cy="345.02" r="4.30" stroke="#3f68c3" stroke-width="1.30" fill="none"/>
<circle cx="815.50" cy="383.39" r="4.30" stroke="#3f68c3" stroke-width="1.30" fill="none"/>
<circle cx="860.02" cy="404.85" r="4.30" stroke="#3f68c3" stroke-width="1.30" fill="none"/>
<circle cx="904.54" cy="419.70" r="4.30" stroke="#3f68c3" stroke-width="1.30" fill="none"/>
<circle cx="949.06" cy="416.40" r="4.30" stroke="#3f68c3" stroke-width="1.30" fill="none"/>
<circle cx="993.58" cy="396.60" r="4.30" stroke="#3f68c3" stroke-width="1.30" fill="none"/>
<circle cx="1038.10" cy="375.56" r="4.30" stroke="#3f68c3" stroke-width="1.30" fill="none"/>
<path d="M592.90,372.39 L596.90,380.19 L588.90,380.19 Z" stroke="#3f68c3" stroke-width="1.43" fill="none"/>
<path d="M637.42,355.89 L641.42,363.69 L633.42,363.69 Z" stroke="#3f68c3" stroke-width="1.43" fill="none"/>
<path d="M681.94,328.25 L685.94,336.04 L677.94,336.04 Z" stroke="#3f68c3" stroke-width="1.43" fill="none"/>
<path d="M726.46,350.94 L730.46,358.74 L722.46,358.74 Z" stroke="#3f68c3" stroke-width="1.43" fill="none"/>
<path d="M770.98,360.84 L774.98,368.64 L766.98,368.64 Z" stroke="#3f68c3" stroke-width="1.43" fill="none"/>
<path d="M815.50,378.99 L819.50,386.79 L811.50,386.79 Z" stroke="#3f68c3" stroke-width="1.43" fill="none"/>
<path d="M860.02,400.45 L864.02,408.25 L856.02,408.25 Z" stroke="#3f68c3" stroke-width="1.43" fill="none"/>
<path d="M904.54,416.13 L908.54,423.93 L900.54,423.93 Z" stroke="#3f68c3" stroke-width="1.43" fill="none"/>
<path d="M949.06,413.65 L953.06,421.45 L945.06,421.45 Z" stroke="#3f68c3" stroke-width="1.43" fill="none"/>
<path d="M993.58,394.26 L997.58,402.06 L989.58,402.06 Z" stroke="#3f68c3" stroke-width="1.43" fill="none"/>
<path d="M1038.10,371.98 L1042.10,379.78 L1034.10,379.78 Z" stroke="#3f68c3" stroke-width="1.43" fill="none"/>
<path d="M592.90,360.02 L597.30,364.42 L592.90,368.82 L588.50,364.42 Z" stroke="#3f68c3" stroke-width="1.30" fill="none"/>
<path d="M637.42,356.30 L641.82,360.70 L637.42,365.10 L633.02,360.70 Z" stroke="#3f68c3" stroke-width="1.30" fill="none"/>
<path d="M681.94,349.70 L686.34,354.10 L681.94,358.50 L677.54,354.10 Z" stroke="#3f68c3" stroke-width="1.30" fill="none"/>
<path d="M726.46,349.29 L730.86,353.69 L726.46,358.09 L722.06,353.69 Z" stroke="#3f68c3" stroke-width="1.30" fill="none"/>
<path d="M770.98,360.02 L775.38,364.42 L770.98,368.82 L766.58,364.42 Z" stroke="#3f68c3" stroke-width="1.30" fill="none"/>
<path d="M815.50,376.52 L819.90,380.92 L815.50,385.32 L811.10,380.92 Z" stroke="#3f68c3" stroke-width="1.30" fill="none"/>
<path d="M860.02,396.74 L864.42,401.14 L860.02,405.54 L855.62,401.14 Z" stroke="#3f68c3" stroke-width="1.30" fill="none"/>
<path d="M904.54,411.18 L908.94,415.58 L904.54,419.98 L900.14,415.58 Z" stroke="#3f68c3" stroke-width="1.30" fill="none"/>
<path d="M949.06,410.35 L953.46,414.75 L949.06,419.15 L944.66,414.75 Z" stroke="#3f68c3" stroke-width="1.30" fill="none"/>
<path d="M993.58,397.97 L997.98,402.37 L993.58,406.77 L989.18,402.37 Z" stroke="#3f68c3" stroke-width="1.30" fill="none"/>
<path d="M1038.10,358.36 L1042.50,362.76 L1038.10,367.16 L1033.70,362.76 Z" stroke="#3f68c3" stroke-width="1.30" fill="none"/>
<path d="M589.00,357.81 L596.80,357.81 M592.90,353.91 L592.90,361.71" stroke="#c40818" stroke-width="1.82" fill="none"/>
<path d="M633.52,347.50 L641.32,347.50 M637.42,343.60 L637.42,351.40" stroke="#c40818" stroke-width="1.82" fill="none"/>
<path d="M678.04,341.72 L685.84,341.72 M681.94,337.82 L681.94,345.62" stroke="#c40818" stroke-width="1.82" fill="none"/>
<path d="M722.56,341.72 L730.36,341.72 M726.46,337.82 L726.46,345.62" stroke="#c40818" stroke-width="1.82" fill="none"/>
<path d="M767.08,347.09 L774.88,347.09 M770.98,343.19 L770.98,350.99" stroke="#c40818" stroke-width="1.82" fill="none"/>
<path d="M811.60,358.64 L819.40,358.64 M815.50,354.74 L815.50,362.54" stroke="#c40818" stroke-width="1.82" fill="none"/>
<path d="M856.12,375.97 L863.92,375.97 M860.02,372.07 L860.02,379.87" stroke="#c40818" stroke-width="1.82" fill="none"/>
<path d="M900.64,386.70 L908.44,386.70 M904.54,382.80 L904.54,390.60" stroke="#c40818" stroke-width="1.82" fill="none"/>
<path d="M945.16,386.70 L952.96,386.70 M949.06,382.80 L949.06,390.60" stroke="#c40818" stroke-width="1.82" fill="none"/>
<path d="M989.68,373.49 L997.48,373.49 M993.58,369.59 L993.58,377.39" stroke="#c40818" stroke-width="1.82" fill="none"/>
<path d="M1034.20,358.23 L1042.00,358.23 M1038.10,354.33 L1038.10,362.13" stroke="#c40818" stroke-width="1.82" fill="none"/>
<path d="M589.00,361.34 L596.80,369.14 M589.00,369.14 L596.80,361.34" stroke="#c40818" stroke-width="2.08" fill="none"/>
<path d="M633.52,347.72 L641.32,355.52 M633.52,355.52 L641.32,347.72" stroke="#c40818" stroke-width="2.08" fill="none"/>
<path d="M678.04,342.77 L685.84,350.57 M678.04,350.57 L685.84,342.77" stroke="#c40818" stroke-width="2.08" fill="none"/>
<path d="M722.56,343.19 L730.36,350.99 M722.56,350.99 L730.36,343.19" stroke="#c40818" stroke-width="2.08" fill="none"/>
<path d="M767.08,349.38 L774.88,357.17 M767.08,357.17 L774.88,349.38" stroke="#c40818" stroke-width="2.08" fill="none"/>
<path d="M811.60,356.80 L819.40,364.60 M811.60,364.60 L819.40,356.80" stroke="#c40818" stroke-width="2.08" fill="none"/>
<path d="M856.12,384.03 L863.92,391.83 M856.12,391.83 L863.92,384.03" stroke="#c40818" stroke-width="2.08" fill="none"/>
<path d="M900.64,398.89 L908.44,406.69 M900.64,406.69 L908.44,398.89" stroke="#c40818" stroke-width="2.08" fill="none"/>
<path d="M945.16,396.41 L952.96,404.21 M945.16,404.21 L952.96,396.41" stroke="#c40818" stroke-width="2.08" fill="none"/>
<path d="M989.68,379.91 L997.48,387.71 M989.68,387.71 L997.48,379.91" stroke="#c40818" stroke-width="2.08" fill="none"/>
<path d="M1034.20,361.34 L1042.00,369.14 M1034.20,369.14 L1042.00,361.34" stroke="#c40818" stroke-width="2.08" fill="none"/>
<rect x="592.90" y="301.70" width="445.20" height="206.30" fill="none" stroke="#5e5e5e" stroke-width="1.4"/>
<path d="M621.00,109.90 L631.00,119.90 M621.00,119.90 L631.00,109.90" stroke="#111" stroke-width="2.3" fill="none"/>
<text x="635.0" y="119.90" font-family="Liberation Serif, serif" stroke="#111" stroke-width="0.4" font-size="15.8" fill="#111"><tspan font-style="italic">T</tspan>=0</text>
<circle cx="626.00" cy="135.10" r="5.0" stroke="#111" stroke-width="2.10" fill="none"/>
<text x="635.0" y="140.10" font-family="Liberation Serif, serif" stroke="#111" stroke-width="0.4" font-size="15.8" fill="#111"><tspan font-style="italic">T</tspan>=0.2</text>
<path d="M626.00,150.70 L631.00,159.50 L621.00,159.50 Z" stroke="#111" stroke-width="2.10" fill="none" stroke-linejoin="miter"/>
<text x="635.0" y="160.30" font-family="Liberation Serif, serif" stroke="#111" stroke-width="0.4" font-size="15.8" fill="#111"><tspan font-style="italic">T</tspan>=0.4</text>
<path d="M626.00,170.20 L631.30,175.50 L626.00,180.80 L620.70,175.50 Z" stroke="#111" stroke-width="2.10" fill="none"/>
<text x="635.0" y="180.50" font-family="Liberation Serif, serif" stroke="#111" stroke-width="0.4" font-size="15.8" fill="#111"><tspan font-style="italic">T</tspan>=0.6</text>
<path d="M620.80,195.70 L631.20,195.70 M626.00,190.50 L626.00,200.90" stroke="#111" stroke-width="2.2" fill="none"/>
<text x="635.0" y="200.70" font-family="Liberation Serif, serif" stroke="#111" stroke-width="0.4" font-size="15.8" fill="#111"><tspan font-style="italic">T</tspan>=0.8</text>
<line x1="685.9" y1="115.1" x2="702.7" y2="115.1" stroke="#3f68c3" stroke-width="2"/>
<text x="705.3" y="120.6" font-family="Liberation Serif, serif" stroke="#111" stroke-width="0.4" font-size="15.8" fill="#111">Open</text>
<line x1="685.9" y1="134.3" x2="702.7" y2="134.3" stroke="#c40818" stroke-width="2"/>
<text x="705.3" y="139.8" font-family="Liberation Serif, serif" stroke="#111" stroke-width="0.4" font-size="15.8" fill="#111">Closed</text></svg>
</body></html>
